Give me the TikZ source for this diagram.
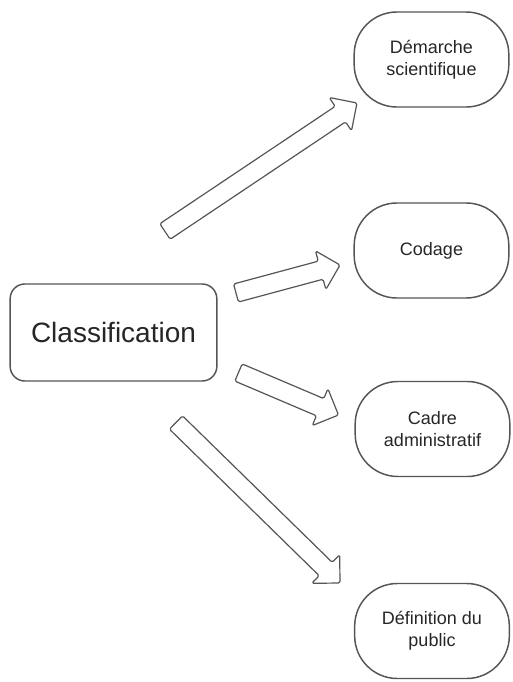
\documentclass[tikz,border=0pt]{standalone}
\usepackage{fontspec}
\setmainfont{Liberation Sans}
\usetikzlibrary{calc}

% hollow block arrow from a tail coordinate to a tip coordinate
\newcommand{\hollowarrow}[2]{%
  \coordinate (#1-neck) at ($(#2)!15pt!(#1)$);
  \draw[blockarrow]
    ($(#1)!7pt!90:(#2)$) -- ($(#1-neck)!7pt!90:(#2)$) -- ($(#1-neck)!15pt!90:(#2)$)
    -- (#2)
    -- ($(#1-neck)!15pt!-90:(#2)$) -- ($(#1-neck)!7pt!-90:(#2)$) -- ($(#1)!7pt!-90:(#2)$)
    -- cycle;
}

\definecolor{edgegray}{HTML}{555555}
\definecolor{textgray}{HTML}{262626}

\tikzset{
  mainbox/.style={draw=edgegray, line width=1.1pt, rounded corners=11pt,
    minimum width=155pt, minimum height=72.75pt, font=\fontsize{21}{25}\selectfont,
    text=textgray, inner sep=0pt},
  topicbox/.style={draw=edgegray, line width=1.1pt, rounded corners=32pt,
    minimum width=116pt, minimum height=71.25pt, align=center,
    font=\fontsize{13.5}{16.5}\selectfont, text=textgray, inner sep=0pt},
  blockarrow/.style={draw=edgegray, line width=0.9pt, rounded corners=1.2pt,
    line join=round},
}

\begin{document}
\begin{tikzpicture}[x=0.75pt, y=-0.75pt]
  \useasboundingbox (0,0) rectangle (513,682);

  \node[mainbox] (classif) at (113.5,332.5) {Classification};

  \node[topicbox] (demarche) at (431.5,59.5) {Démarche\\scientifique};
  \node[topicbox] (codage) at (431.5,250.5) {Codage};
  \node[topicbox] (cadre) at (432.5,429) {Cadre\\administratif};
  \node[topicbox] (public) at (432,631) {Définition du\\public};

  % arrow ends
  \coordinate (a1) at (165,231.5);
  \coordinate (a1tip) at (357,103);
  \coordinate (a2) at (236,293);
  \coordinate (a2tip) at (340,265);
  \coordinate (a3) at (238.5,372.5);
  \coordinate (a3tip) at (338.5,415);
  \coordinate (a4) at (176,422.5);
  \coordinate (a4tip) at (340,583);

  \hollowarrow{a1}{a1tip}
  \hollowarrow{a2}{a2tip}
  \hollowarrow{a3}{a3tip}
  \hollowarrow{a4}{a4tip}
\end{tikzpicture}
\end{document}
